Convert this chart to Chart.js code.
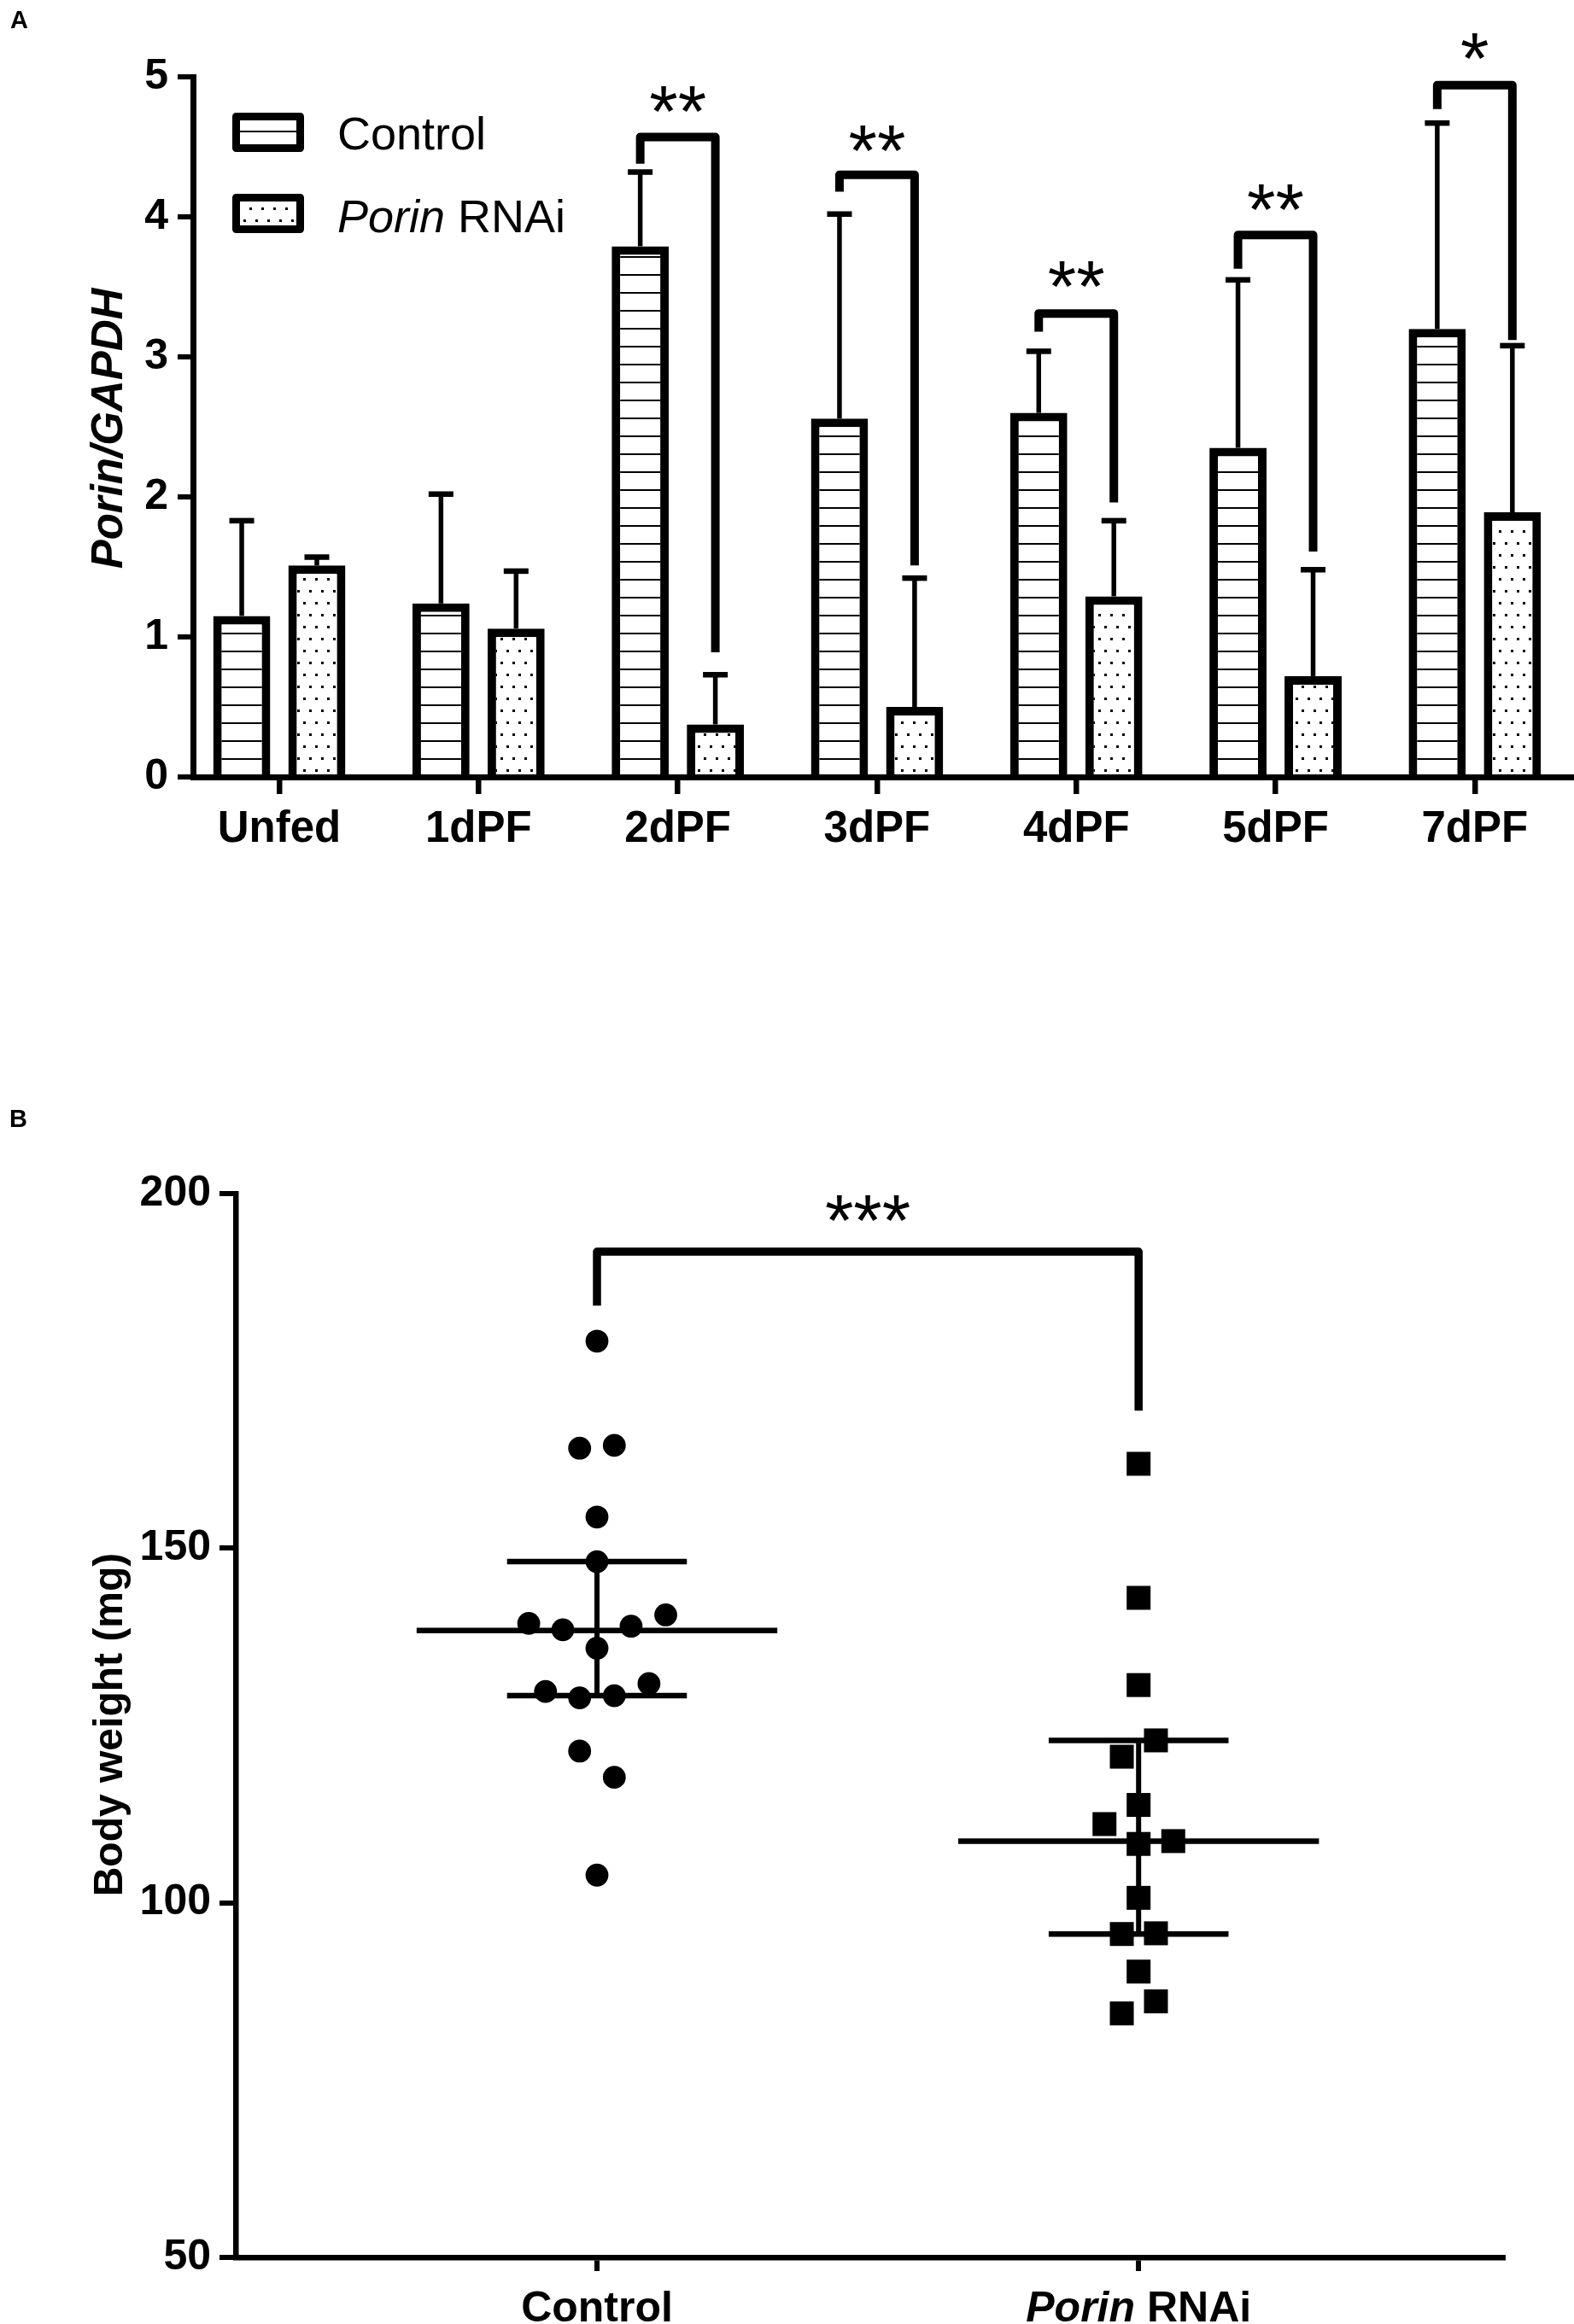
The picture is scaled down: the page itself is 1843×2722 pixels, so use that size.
<!DOCTYPE html>
<html>
<head>
<meta charset="utf-8">
<script src="https://cdn.jsdelivr.net/npm/chart.js@4.4.1/dist/chart.umd.min.js"></script>
<style>
html,body{margin:0;padding:0;background:#fff;}
#wrap{position:relative;width:1843px;height:2722px;background:#fff;}
canvas{position:absolute;left:0;}
#cA{top:0;width:1843px;height:1100px;}
#cB{top:1100px;width:1843px;height:1622px;}
</style>
</head>
<body>
<div id="wrap">
<canvas id="cA" width="1843" height="1100"></canvas>
<canvas id="cB" width="1843" height="1622"></canvas>
</div>
<script>
// ---------- Panel A data ----------
const categories = ['Unfed', '1dPF', '2dPF', '3dPF', '4dPF', '5dPF', '7dPF'];
const controlMean = [1.15, 1.24, 3.79, 2.56, 2.60, 2.35, 3.20];
const controlSD   = [0.68, 0.78, 0.53, 1.46, 0.44, 1.20, 1.47];
const rnaiMean    = [1.51, 1.06, 0.375, 0.50, 1.29, 0.72, 1.89];
const rnaiSD      = [0.06, 0.41, 0.355, 0.92, 0.54, 0.76, 1.19];
const yTicksA = [0, 1, 2, 3, 4, 5];
const sigIndex    = [2, 3, 4, 5, 6];
const sigLabel    = ['**', '**', '**', '**', '*'];
const sigTop      = [4.57, 4.30, 3.31, 3.87, 4.94];
const sigLeftEnd  = [4.38, 4.18, 3.18, 3.63, 4.77];
const sigRightEnd = [0.89, 1.51, 1.96, 1.61, 3.12];
const sigStarY    = [4.82, 4.54, 3.57, 4.12, 5.20];

// ---------- Panel B data ----------
const groupsB = ['Control', 'Porin RNAi'];
const controlWeight  = [179.2, 164.1, 164.5, 154.4, 148.1, 139.4, 138.5, 139.0, 140.6, 135.9, 129.8, 128.9, 129.2, 130.9, 121.4, 117.7, 103.9];
const controlXOffset = [0, -0.032, 0.032, 0, 0, -0.126, -0.063, 0.063, 0.127, 0, -0.095, -0.032, 0.032, 0.096, -0.032, 0.032, 0];
const rnaiWeight     = [161.9, 143.0, 130.7, 122.9, 120.6, 113.8, 111.1, 108.3, 108.7, 100.7, 95.6, 95.7, 90.3, 86.1, 84.4];
const rnaiXOffset    = [0, 0, 0, 0.032, -0.031, 0, -0.063, 0, 0.064, 0, -0.031, 0.032, 0, 0.032, -0.031];
const meanB    = [138.4, 108.7];
const sdUpperB = [148.1, 122.9];
const sdLowerB = [129.2, 95.6];
const yTicksB  = [50, 100, 150, 200];
const sigBLabel = ['***'];
const sigBTop = [191.8];
const sigBLeftEnd = [184.2];
const sigBRightEnd = [169.4];
const sigBStarY = [197.5];

const FF = "'Liberation Sans', Arial, Helvetica, sans-serif";

function makeLinePattern() {
  const c = document.createElement('canvas');
  c.width = 8; c.height = 21;
  const g = c.getContext('2d');
  g.fillStyle = '#fff'; g.fillRect(0, 0, 8, 21);
  g.fillStyle = '#000'; g.fillRect(0, 6, 8, 2);
  return g.createPattern(c, 'repeat');
}
function makeDotPattern() {
  const c = document.createElement('canvas');
  c.width = 14; c.height = 28;
  const g = c.getContext('2d');
  g.fillStyle = '#fff'; g.fillRect(0, 0, 14, 28);
  g.fillStyle = '#000';
  g.fillRect(5, 5, 3, 3);
  g.fillRect(12, 19, 3, 3);
  g.fillRect(-2, 19, 3, 3);
  return g.createPattern(c, 'repeat');
}
const linePat = makeLinePattern();
const dotPat = makeDotPattern();

function seg(ctx, x1, y1, x2, y2) {
  ctx.beginPath(); ctx.moveTo(x1, y1); ctx.lineTo(x2, y2); ctx.stroke();
}
function star(ctx, txt, cx, cyPx) {
  ctx.font = '86px ' + FF;
  ctx.textAlign = 'center';
  ctx.textBaseline = 'alphabetic';
  ctx.fillStyle = '#000';
  ctx.fillText(txt, cx, cyPx + 0.47 * 86);
}

const annotA = {
  id: 'annotA',
  afterDatasetsDraw(chart) {
    const ctx = chart.ctx;
    const x = chart.scales.x, y = chart.scales.y;
    const m0 = chart.getDatasetMeta(0), m1 = chart.getDatasetMeta(1);
    ctx.save();
    ctx.strokeStyle = '#000';
    ctx.fillStyle = '#000';
    ctx.lineCap = 'butt';
    // error bars (upper only)
    [[m0, controlMean, controlSD], [m1, rnaiMean, rnaiSD]].forEach(([m, mean, sd]) => {
      m.data.forEach((el, i) => {
        const yt = y.getPixelForValue(mean[i]);
        const ye = y.getPixelForValue(mean[i] + sd[i]);
        ctx.lineWidth = 5.5;
        seg(ctx, el.x, yt, el.x, ye);
        ctx.lineWidth = 6.5;
        seg(ctx, el.x - 14.5, ye, el.x + 14.5, ye);
      });
    });
    // significance brackets
    sigIndex.forEach((ci, k) => {
      const xl = m0.data[ci].x, xr = m1.data[ci].x;
      const yTop = y.getPixelForValue(sigTop[k]);
      ctx.lineWidth = 10;
      ctx.lineJoin = 'round';
      ctx.beginPath();
      ctx.moveTo(xl, y.getPixelForValue(sigLeftEnd[k]));
      ctx.lineTo(xl, yTop);
      ctx.lineTo(xr, yTop);
      ctx.lineTo(xr, y.getPixelForValue(sigRightEnd[k]));
      ctx.stroke();
      star(ctx, sigLabel[k], (xl + xr) / 2, y.getPixelForValue(sigStarY[k]));
    });
    // legend
    ctx.lineJoin = 'round';
    ctx.lineWidth = 9;
    ctx.fillStyle = linePat; ctx.fillRect(276.5, 136.5, 75, 37);
    ctx.strokeRect(276.5, 136.5, 75, 37);
    ctx.fillStyle = dotPat; ctx.fillRect(276.5, 231.5, 75, 37);
    ctx.strokeRect(276.5, 231.5, 75, 37);
    ctx.fillStyle = '#000';
    ctx.textAlign = 'left';
    ctx.textBaseline = 'alphabetic';
    ctx.font = '54px ' + FF;
    ctx.fillText('Control', 395, 175);
    ctx.font = 'italic 54px ' + FF;
    ctx.fillText('Porin', 395, 272);
    const w = ctx.measureText('Porin').width;
    ctx.font = '54px ' + FF;
    ctx.fillText(' RNAi', 395 + w, 272);
    // panel letter
    ctx.font = 'bold 29px ' + FF;
    ctx.fillText('A', 12, 33);
    // y title
    ctx.save();
    ctx.translate(125, 502);
    ctx.rotate(-Math.PI / 2);
    ctx.textAlign = 'center';
    ctx.font = 'italic bold 51px ' + FF;
    ctx.fillText('Porin/GAPDH', 0, 0.358 * 51);
    ctx.restore();
    ctx.restore();
  }
};

const annotB = {
  id: 'annotB',
  beforeDatasetsDraw(chart) {
    const ctx = chart.ctx;
    const x = chart.scales.x, y = chart.scales.y;
    ctx.save();
    ctx.strokeStyle = '#000';
    ctx.lineCap = 'butt';
    groupsB.forEach((g, i) => {
      const ym = y.getPixelForValue(meanB[i]);
      const yu = y.getPixelForValue(sdUpperB[i]);
      const yl = y.getPixelForValue(sdLowerB[i]);
      const cx = x.getPixelForValue(i);
      ctx.lineWidth = 6.5;
      seg(ctx, x.getPixelForValue(i - 0.333), ym, x.getPixelForValue(i + 0.333), ym);
      seg(ctx, x.getPixelForValue(i - 0.166), yu, x.getPixelForValue(i + 0.166), yu);
      seg(ctx, x.getPixelForValue(i - 0.166), yl, x.getPixelForValue(i + 0.166), yl);
      ctx.lineWidth = 6;
      seg(ctx, cx, yu, cx, yl);
    });
    ctx.restore();
  },
  afterDatasetsDraw(chart) {
    const ctx = chart.ctx;
    const x = chart.scales.x, y = chart.scales.y;
    ctx.save();
    ctx.strokeStyle = '#000';
    ctx.fillStyle = '#000';
    // bracket
    const xl = x.getPixelForValue(0), xr = x.getPixelForValue(1);
    const yTop = y.getPixelForValue(sigBTop[0]);
    ctx.lineWidth = 9.5;
    ctx.lineJoin = 'round';
    ctx.lineCap = 'butt';
    ctx.beginPath();
    ctx.moveTo(xl, y.getPixelForValue(sigBLeftEnd[0]));
    ctx.lineTo(xl, yTop);
    ctx.lineTo(xr, yTop);
    ctx.lineTo(xr, y.getPixelForValue(sigBRightEnd[0]));
    ctx.stroke();
    star(ctx, sigBLabel[0], (xl + xr) / 2, y.getPixelForValue(sigBStarY[0]));
    // x labels
    const base = 1619;
    ctx.textBaseline = 'alphabetic';
    ctx.textAlign = 'center';
    ctx.font = 'bold 50px ' + FF;
    ctx.fillText(groupsB[0], x.getPixelForValue(0), base);
    ctx.textAlign = 'left';
    ctx.font = 'italic bold 50px ' + FF;
    const w1 = ctx.measureText('Porin').width;
    ctx.font = 'bold 50px ' + FF;
    const w2 = ctx.measureText(' RNAi').width;
    const sx = x.getPixelForValue(1) - (w1 + w2) / 2;
    ctx.font = 'italic bold 50px ' + FF;
    ctx.fillText('Porin', sx, base);
    ctx.font = 'bold 50px ' + FF;
    ctx.fillText(' RNAi', sx + w1, base);
    // panel letter
    ctx.font = 'bold 29px ' + FF;
    ctx.fillText('B', 11, 220);
    // y title
    ctx.save();
    ctx.translate(142.5, 920);
    ctx.rotate(-Math.PI / 2);
    ctx.textAlign = 'center';
    ctx.font = 'bold 48px ' + FF;
    ctx.fillText('Body weight (mg)', 0, 0);
    ctx.restore();
    ctx.restore();
  }
};

new Chart(document.getElementById('cA'), {
  type: 'bar',
  data: {
    datasets: [
      {
        label: 'Control',
        data: categories.map((c, i) => ({ x: i, y: controlMean[i] })),
        backgroundColor: linePat,
        borderColor: '#000',
        borderWidth: 10,
        categoryPercentage: 0.754,
        barPercentage: 0.76
      },
      {
        label: 'Porin RNAi',
        data: categories.map((c, i) => ({ x: i, y: rnaiMean[i] })),
        backgroundColor: dotPat,
        borderColor: '#000',
        borderWidth: 10,
        categoryPercentage: 0.754,
        barPercentage: 0.76
      }
    ]
  },
  options: {
    responsive: false,
    animation: false,
    devicePixelRatio: 1,
    events: [],
    layout: { padding: { left: 0, top: 90, right: 3, bottom: 0 } },
    plugins: { legend: { display: false }, tooltip: { enabled: false } },
    scales: {
      x: {
        type: 'linear',
        offset: false,
        min: -0.433,
        max: 6.485,
        afterBuildTicks: s => { s.ticks = categories.map((_, i) => ({ value: i })); },
        afterFit: s => { s.height = 190; },
        ticks: {
          callback: v => (categories[v] !== undefined ? categories[v] : ''),
          font: { family: FF, size: 51, weight: 'bold' },
          color: '#000',
          padding: 11,
          maxRotation: 0,
          autoSkip: false
        },
        grid: { display: true, offset: false, drawOnChartArea: false, drawTicks: true, tickLength: 20, lineWidth: 6.5, tickWidth: 6.5, color: '#000', tickColor: '#000' },
        border: { display: true, color: '#000', width: 7 }
      },
      y: {
        type: 'linear',
        min: 0,
        max: 5,
        afterBuildTicks: s => { s.ticks = yTicksA.map(v => ({ value: v })); },
        afterFit: s => { s.width = 226; },
        ticks: { font: { family: FF, size: 50, weight: 'bold' }, color: '#000', padding: 11 },
        grid: { display: true, drawOnChartArea: false, drawTicks: true, tickLength: 18, lineWidth: 6, tickWidth: 6, color: '#000', tickColor: '#000' },
        border: { display: true, color: '#000', width: 7 }
      }
    }
  },
  plugins: [annotA]
});

new Chart(document.getElementById('cB'), {
  type: 'scatter',
  data: {
    datasets: [
      {
        label: 'Control',
        data: controlWeight.map((v, i) => ({ x: 0 + controlXOffset[i], y: v })),
        pointStyle: 'circle',
        pointRadius: 13.4,
        pointBackgroundColor: '#000',
        pointBorderWidth: 0,
        backgroundColor: '#000'
      },
      {
        label: 'Porin RNAi',
        data: rnaiWeight.map((v, i) => ({ x: 1 + rnaiXOffset[i], y: v })),
        pointStyle: 'rect',
        pointRadius: 19.8,
        pointBackgroundColor: '#000',
        pointBorderWidth: 0,
        backgroundColor: '#000'
      }
    ]
  },
  options: {
    responsive: false,
    animation: false,
    devicePixelRatio: 1,
    events: [],
    layout: { padding: { left: 0, top: 298, right: 83, bottom: 0 } },
    plugins: { legend: { display: false }, tooltip: { enabled: false } },
    scales: {
      x: {
        type: 'linear',
        min: -0.667,
        max: 1.673,
        afterBuildTicks: s => { s.ticks = groupsB.map((_, i) => ({ value: i })); },
        afterFit: s => { s.height = 78; },
        ticks: { callback: () => '', font: { family: FF, size: 20 }, autoSkip: false, maxRotation: 0 },
        grid: { display: true, drawOnChartArea: false, drawTicks: true, tickLength: 16, lineWidth: 6, tickWidth: 6, color: '#000', tickColor: '#000' },
        border: { display: true, color: '#000', width: 6.5 }
      },
      y: {
        type: 'linear',
        min: 50,
        max: 200,
        afterBuildTicks: s => { s.ticks = yTicksB.map(v => ({ value: v })); },
        afterFit: s => { s.width = 276; },
        ticks: { font: { family: FF, size: 50, weight: 'bold' }, color: '#000', padding: 10 },
        grid: { display: true, drawOnChartArea: false, drawTicks: true, tickLength: 19, lineWidth: 6, tickWidth: 6, color: '#000', tickColor: '#000' },
        border: { display: true, color: '#000', width: 6.5 }
      }
    }
  },
  plugins: [annotB]
});
</script>
</body>
</html>
